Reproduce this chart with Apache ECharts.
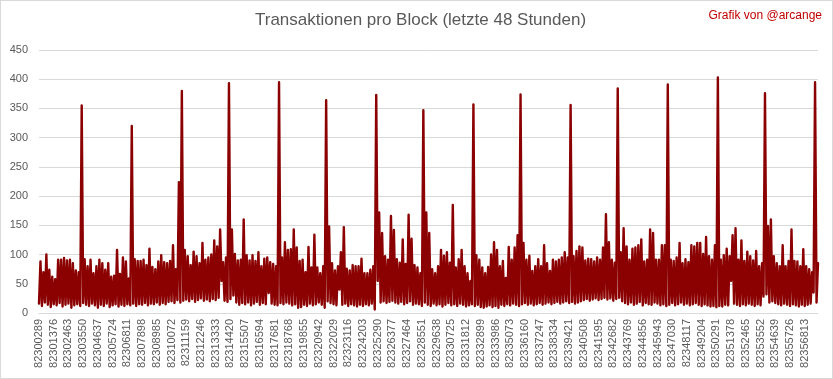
<!DOCTYPE html>
<html><head><meta charset="utf-8">
<script src="https://cdn.jsdelivr.net/npm/echarts@6/dist/echarts.min.js"></script>
<style>
html,body{margin:0;padding:0;background:#fff}
#c{position:absolute;left:0;top:0;width:833px;height:379px}
#b{position:absolute;left:0;top:0;width:833px;height:379px;box-sizing:border-box;border:1px solid #d9d9d9;pointer-events:none}
</style>
</head><body><div id="c"></div><div id="b"></div><script>
const tickLabels = ["82300289","82301376","82302463","82303550","82304637","82305724","82306811","82307898","82308985","82310072","82311159","82312246","82313333","82314420","82315507","82316594","82317681","82318768","82319855","82320942","82322029","82323116","82324203","82325290","82326377","82327464","82328551","82329638","82330725","82331812","82332899","82333986","82335073","82336160","82337247","82338334","82339421","82340508","82341595","82342682","82343769","82344856","82345943","82347030","82348117","82349204","82350291","82351378","82352465","82353552","82354639","82355726","82356813"];

// per-slice maximum of transactions per block (5 slices per label interval)
const highs = [
88,70,100,74,62,58,91,91,94,90,
91,85,73,70,355,92,80,91,68,80,
91,85,74,85,62,64,108,67,95,88,
59,320,92,89,89,91,82,110,79,75,
88,99,87,85,89,116,75,224,380,108,
97,82,105,97,85,120,91,95,100,124,
114,143,87,95,393,143,101,90,91,160,
99,90,99,89,104,80,93,95,87,84,
80,395,95,121,108,109,143,112,89,91,
70,113,78,134,78,68,80,364,148,85,
73,80,104,147,76,73,82,80,80,93,
68,68,74,80,373,172,137,97,91,166,
142,92,86,126,84,168,127,82,78,68,
347,172,137,75,68,80,108,98,104,86,
185,78,92,108,80,68,55,357,99,91,
78,68,79,100,121,108,80,89,60,113,
91,112,133,374,120,91,98,72,80,92,
80,116,85,72,91,88,91,95,104,95,
356,97,106,114,112,90,93,92,88,95,
91,112,169,121,91,86,384,104,145,114,
91,110,112,116,126,88,91,143,137,91,
91,116,116,391,91,89,95,120,85,92,
87,116,114,120,120,101,130,97,91,116,
403,91,99,110,97,133,145,91,124,89,
105,97,90,106,80,85,376,149,160,97,
85,80,116,80,89,143,89,88,80,109,
80,75,70,395,85
];

// per-slice minimum of transactions per block
const lows = [
16,12,18,14,10,15,13,17,11,14,
16,9,13,15,12,17,14,12,16,13,
9,14,12,16,10,13,15,11,14,12,
15,13,16,12,15,14,17,13,16,15,
18,14,17,15,19,20,17,22,18,21,
23,20,24,19,22,25,21,23,20,24,
22,26,55,21,19,24,30,18,14,17,
15,18,13,16,19,14,17,15,34,16,
14,13,17,15,18,16,13,15,9,10,
14,12,16,13,15,18,14,9,20,17,
15,13,40,14,16,12,15,13,11,14,
12,15,13,16,6,55,18,20,17,19,
21,18,16,19,15,17,20,14,16,15,
12,18,14,12,16,13,15,11,14,17,
13,15,12,16,14,11,13,15,12,14,
10,9,11,13,10,12,9,14,12,15,
13,16,14,12,15,17,14,16,13,15,
17,14,16,18,15,17,19,16,18,20,
17,19,16,18,20,22,24,21,23,25,
22,24,26,23,25,21,24,26,20,17,
15,18,14,16,19,13,17,15,14,18,
16,13,15,12,14,17,13,15,18,14,
16,13,15,17,14,12,15,13,11,12,
10,12,11,14,13,55,16,14,12,15,
13,16,14,12,15,13,28,32,18,20,
17,15,13,16,14,12,15,13,11,14,
12,14,16,35,18
];

const yTicks = {min: 0, max: 450, step: 50};

const slicesPerLabel = highs.length / tickLabels.length; // 5
const ptsPerLabel = slicesPerLabel * 2;
const values = [];
const categories = [];
for (let b = 0; b < highs.length; b++) {
  values.push(lows[b]);
  values.push(highs[b]);
}
for (let i = 0; i < values.length; i++) {
  categories.push(i % ptsPerLabel === 0 ? tickLabels[i / ptsPerLabel] : '');
}

const chart = echarts.init(document.getElementById('c'), null, {renderer: 'canvas'});
chart.setOption({
  animation: false,
  backgroundColor: '#ffffff',
  title: [
    {text: 'Transaktionen pro Block (letzte 48 Stunden)', left: 255, top: 12, padding: 0,
     textStyle: {fontSize: 17, fontWeight: 'normal', color: '#595959', fontFamily: 'Liberation Sans'}},
    {text: 'Grafik von @arcange', right: 11, top: 10, padding: 0,
     textStyle: {fontSize: 12, fontWeight: 'normal', color: '#c00000', fontFamily: 'Liberation Sans'}}
  ],
  grid: {left: 39, right: 15, top: 50, bottom: 66, containLabel: false},
  xAxis: {
    type: 'category',
    data: categories,
    boundaryGap: false,
    axisTick: {show: false},
    axisLine: {lineStyle: {color: '#d9d9d9', width: 1}},
    axisLabel: {
      interval: (idx) => idx % ptsPerLabel === 0,
      rotate: 90, color: '#595959', fontSize: 11, margin: 6,
      fontFamily: 'Liberation Sans'
    },
    splitLine: {show: false}
  },
  yAxis: {
    type: 'value', min: yTicks.min, max: yTicks.max, interval: yTicks.step,
    axisLine: {show: false}, axisTick: {show: false},
    axisLabel: {color: '#595959', fontSize: 11, margin: 11, fontFamily: 'Liberation Sans'},
    splitLine: {lineStyle: {color: '#d9d9d9', width: 1}}
  },
  series: [{
    type: 'line',
    data: values,
    showSymbol: false,
    symbol: 'none',
    sampling: null,
    lineStyle: {color: '#8b0000', width: 2.4, join: 'round', cap: 'round'},
    itemStyle: {color: '#8b0000'}
  }]
});
</script></body></html>
